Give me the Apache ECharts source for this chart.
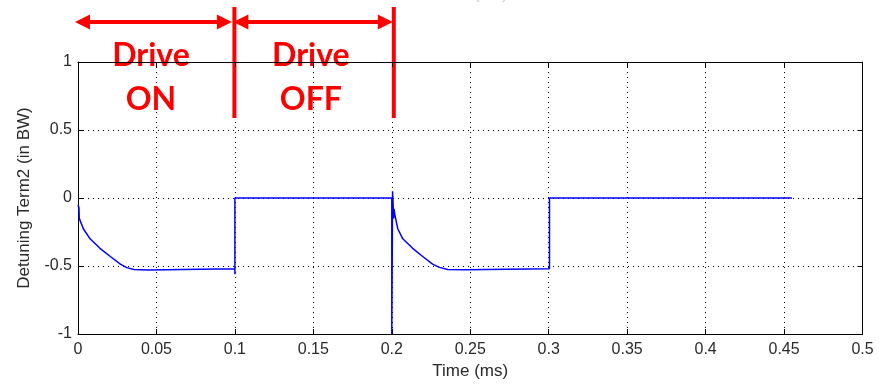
<!DOCTYPE html>
<html><head><meta charset="utf-8">
<script src="https://cdn.jsdelivr.net/npm/echarts@6/dist/echarts.min.js"></script>
<style>html,body{margin:0;padding:0;background:#fff}#c{width:879px;height:385px}</style>
</head><body><div id="c"></div>
<script>
const timeMs = [0, 0.0006, 0.0008, 0.0013, 0.0034, 0.0077, 0.014, 0.0206, 0.027, 0.031, 0.0356, 0.045, 0.045, 0.1, 0.1, 0.1,
  0.2, 0.2, 0.2005, 0.2005, 0.2012, 0.2014, 0.2019, 0.2038, 0.207, 0.2133, 0.2197, 0.226, 0.2303, 0.2356, 0.247, 0.247, 0.3005, 0.3005, 0.455];
const detuning = [-0.05, -0.07, -0.15, -0.14, -0.226, -0.30, -0.37, -0.43, -0.486, -0.512, -0.525, -0.53, -0.52, -0.52, -0.56, 0,
  0, -1, -1, 0.05, -0.15, -0.08, -0.12, -0.226, -0.30, -0.37, -0.43, -0.486, -0.51, -0.525, -0.528, -0.52, -0.52, 0, 0];
const xTickLabels = ['0','0.05','0.1','0.15','0.2','0.25','0.3','0.35','0.4','0.45','0.5'];
const yTickLabels = ['-1','-0.5','0','0.5','1'];
const phaseBounds = [0, 0.1, 0.2];
const phaseLabels = [['Drive','ON'], ['Drive','OFF']];

const chart = echarts.init(document.getElementById('c'));
const txtColor = '#2a2a2a';
const axisFont = {fontFamily: 'Liberation Sans', fontSize: 16, color: txtColor};
const gridDots = {show: true, lineStyle: {color: '#000', type: [1, 4], width: 1}};
const line = {show: true, onZero: false, lineStyle: {color: '#000', width: 1}};
const tick = {show: true, inside: true, length: 5, lineStyle: {color: '#000'}};
chart.setOption({
  animation: false,
  grid: {left: 78, right: 16.5, top: 62, bottom: 48.5},
  xAxis: [{
    type: 'value', min: 0, max: 0.5, interval: 0.05,
    name: 'Time (ms)', nameLocation: 'middle', nameGap: 29,
    nameTextStyle: {fontFamily: 'Liberation Sans', fontSize: 17, color: txtColor},
    axisLine: line, axisTick: tick,
    axisLabel: Object.assign({margin: 8, formatter: (v, i) => xTickLabels[i]}, axisFont),
    splitLine: gridDots
  }, {
    type: 'value', min: 0, max: 0.5, interval: 0.05, position: 'top',
    axisLine: line, axisTick: tick, axisLabel: {show: false}, splitLine: {show: false}
  }],
  yAxis: [{
    type: 'value', min: -1, max: 1, interval: 0.5,
    name: 'Detuning Term2 (in BW)', nameLocation: 'middle', nameGap: 45,
    nameTextStyle: {fontFamily: 'Liberation Sans', fontSize: 17, color: txtColor},
    axisLine: line, axisTick: tick,
    axisLabel: Object.assign({margin: 6, formatter: (v, i) => yTickLabels[i]}, axisFont),
    splitLine: gridDots
  }, {
    type: 'value', min: -1, max: 1, interval: 0.5, position: 'right',
    axisLine: line, axisTick: tick, axisLabel: {show: false}, splitLine: {show: false}
  }],
  series: [{
    type: 'line', xAxisIndex: 0, yAxisIndex: 0, showSymbol: false, symbol: 'none',
    lineStyle: {color: '#0000ff', width: 1.5},
    data: timeMs.map((t, i) => [t, detuning[i]])
  }]
});

// annotations
const px = phaseBounds.map(t => chart.convertToPixel({xAxisIndex: 0}, t));
const red = '#ff0000';
const g = [];
const arrowY = 22, headL = 15, headH = 7.5;
const arrowEnds = [[px[0] - 3, px[1] - 3], [px[1] - 1.5, px[2] + 1]];
const textX = [px[0] + 73, px[1] + 76];
for (let k = 0; k < 2; k++) {
  const [a, b] = arrowEnds[k];
  g.push({type: 'line', shape: {x1: a + headL - 2, y1: arrowY, x2: b - headL + 2, y2: arrowY}, style: {stroke: red, lineWidth: 4}});
  g.push({type: 'polygon', shape: {points: [[a, arrowY], [a + headL, arrowY - headH], [a + headL, arrowY + headH]]}, style: {fill: red}});
  g.push({type: 'polygon', shape: {points: [[b, arrowY], [b - headL, arrowY - headH], [b - headL, arrowY + headH]]}, style: {fill: red}});
  g.push({type: 'text', x: textX[k], y: 56, style: {text: phaseLabels[k][0], fill: red, font: 'bold 32px Lato', align: 'center', verticalAlign: 'middle'}});
  g.push({type: 'text', x: textX[k], y: 100, style: {text: phaseLabels[k][1], fill: red, font: 'bold 32px Lato', align: 'center', verticalAlign: 'middle'}});
}
[[px[1] - 0.5], [px[2] + 2]].forEach(([x]) => {
  g.push({type: 'line', shape: {x1: x, y1: 7, x2: x, y2: 118}, style: {stroke: red, lineWidth: 4}});
});
g.push({type: 'text', x: 470, y: -14, style: {text: 'Time (ms)', fill: '#c8c8c8', font: '17px Liberation Sans', align: 'center', verticalAlign: 'top'}});
chart.setOption({graphic: g});
</script>
</body></html>
